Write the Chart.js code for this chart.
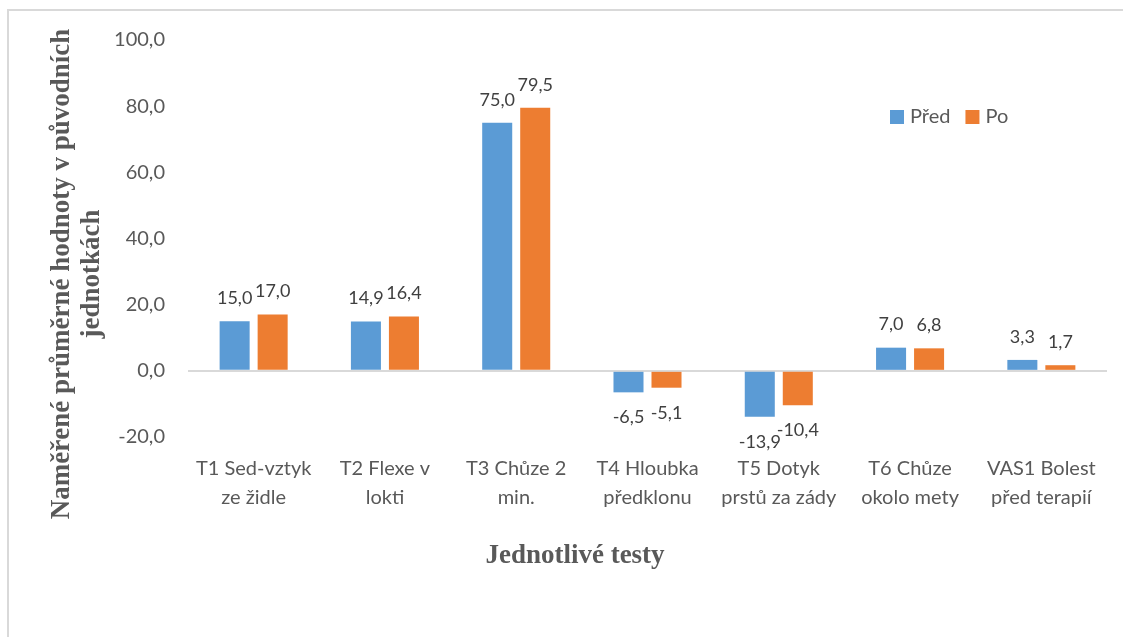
<!DOCTYPE html>
<html lang="cs">
<head>
<meta charset="utf-8">
<title>Jednotlivé testy – před a po</title>
<script src="https://cdn.jsdelivr.net/npm/chart.js@4.4.1/dist/chart.umd.min.js"></script>
<style>
  html, body { margin: 0; padding: 0; background: #ffffff; }
  #wrap { position: relative; width: 1123px; height: 637px; }
</style>
</head>
<body>
<div id="wrap"><canvas id="chart"></canvas></div>
<script>
// Test names (two lines each)
const categories = [
  ['T1 Sed-vztyk', 'ze židle'],
  ['T2 Flexe v', 'lokti'],
  ['T3 Chůze 2', 'min.'],
  ['T4 Hloubka', 'předklonu'],
  ['T5 Dotyk', 'prstů za zády'],
  ['T6 Chůze', 'okolo mety'],
  ['VAS1 Bolest', 'před terapií']
];
// Mean measured values before and after
const pred = [15.0, 14.9, 75.0, -6.5, -13.9, 7.0, 3.3];
const po   = [17.0, 16.4, 79.5, -5.1, -10.4, 6.8, 1.7];
const seriesNames = ['Před', 'Po'];
// Value axis range
const yMin = -20, yMax = 100, yStep = 20;
const yTitle = ['Naměřené průměrné hodnoty v původních', 'jednotkách'];
const xTitle = 'Jednotlivé testy';

const BLUE = '#5B9BD5', ORANGE = '#ED7D31', TEXT = '#595959', LABEL = '#404040';
const sans = 'Lato, "Open Sans", sans-serif';
const serif = '"Liberation Serif", "DejaVu Serif", serif';

const fmt = v => v.toFixed(1).replace('.', ',');

// Light frame along the top and left edges
const framePlugin = {
  id: 'frame',
  beforeDraw(chart) {
    const { ctx, width, height } = chart;
    ctx.save();
    ctx.strokeStyle = '#d9d9d9';
    ctx.lineWidth = 2;
    ctx.beginPath();
    ctx.moveTo(8, height);
    ctx.lineTo(8, 10);
    ctx.lineTo(width, 10);
    ctx.stroke();
    ctx.restore();
  }
};

// Value labels at the end of each bar
const valueLabels = {
  id: 'valueLabels',
  afterDatasetsDraw(chart) {
    const { ctx } = chart;
    ctx.save();
    ctx.font = '18px ' + sans;
    ctx.fillStyle = LABEL;
    ctx.textAlign = 'center';
    ctx.textBaseline = 'middle';
    chart.data.datasets.forEach((ds, i) => {
      chart.getDatasetMeta(i).data.forEach((bar, j) => {
        const v = ds.data[j];
        const y = v >= 0 ? bar.y - 23 : bar.y + 25;
        ctx.fillText(fmt(v), bar.x, y);
      });
    });
    ctx.restore();
  }
};

// Axis titles and legend
const decor = {
  id: 'decor',
  afterDraw(chart) {
    const { ctx } = chart;
    ctx.save();
    ctx.fillStyle = TEXT;
    ctx.font = 'bold 27px ' + serif;
    ctx.textAlign = 'center';
    ctx.textBaseline = 'middle';
    // vertical title
    ctx.save();
    ctx.translate(62, 274);
    ctx.rotate(-Math.PI / 2);
    yTitle.forEach((line, k) => ctx.fillText(line, 0, k * 30));
    ctx.restore();
    // horizontal title
    ctx.fillText(xTitle, 575, 556);

    // legend
    ctx.font = '20px ' + sans;
    ctx.textAlign = 'left';
    let x = 890;
    const y = 117;
    chart.data.datasets.forEach(ds => {
      ctx.fillStyle = ds.backgroundColor;
      ctx.fillRect(x, y - 7, 14, 14);
      ctx.fillStyle = TEXT;
      ctx.fillText(ds.label, x + 20, y);
      x += 20 + ctx.measureText(ds.label).width + 15;
    });
    ctx.restore();
  }
};

new Chart(document.getElementById('chart'), {
  type: 'bar',
  data: {
    labels: categories,
    datasets: [
      { label: seriesNames[0], data: pred, backgroundColor: BLUE },
      { label: seriesNames[1], data: po, backgroundColor: ORANGE }
    ]
  },
  options: {
    responsive: true,
    maintainAspectRatio: false,
    animation: false,
    devicePixelRatio: 1,
    categoryPercentage: 0.579,
    barPercentage: 0.79,
    layout: { padding: { top: 40, right: 16, left: 0, bottom: 0 } },
    plugins: { legend: { display: false }, tooltip: { enabled: false } },
    scales: {
      x: {
        grid: { display: false },
        border: { display: false },
        ticks: {
          color: TEXT,
          font: { family: sans, size: 20, lineHeight: 1.45 },
          autoSkip: false,
          maxRotation: 0,
          minRotation: 0,
          padding: 9
        },
        afterFit(scale) { scale.height = 200; }
      },
      y: {
        min: yMin,
        max: yMax,
        grid: {
          drawTicks: false,
          lineWidth: 2,
          color: c => (c.tick && c.tick.value === 0 ? '#d9d9d9' : 'rgba(0,0,0,0)')
        },
        border: { display: false },
        ticks: {
          stepSize: yStep,
          color: TEXT,
          font: { family: sans, size: 20 },
          padding: 23,
          callback: v => fmt(v)
        },
        afterFit(scale) { scale.width = 188; }
      }
    }
  },
  plugins: [framePlugin, valueLabels, decor]
});
</script>
</body>
</html>
